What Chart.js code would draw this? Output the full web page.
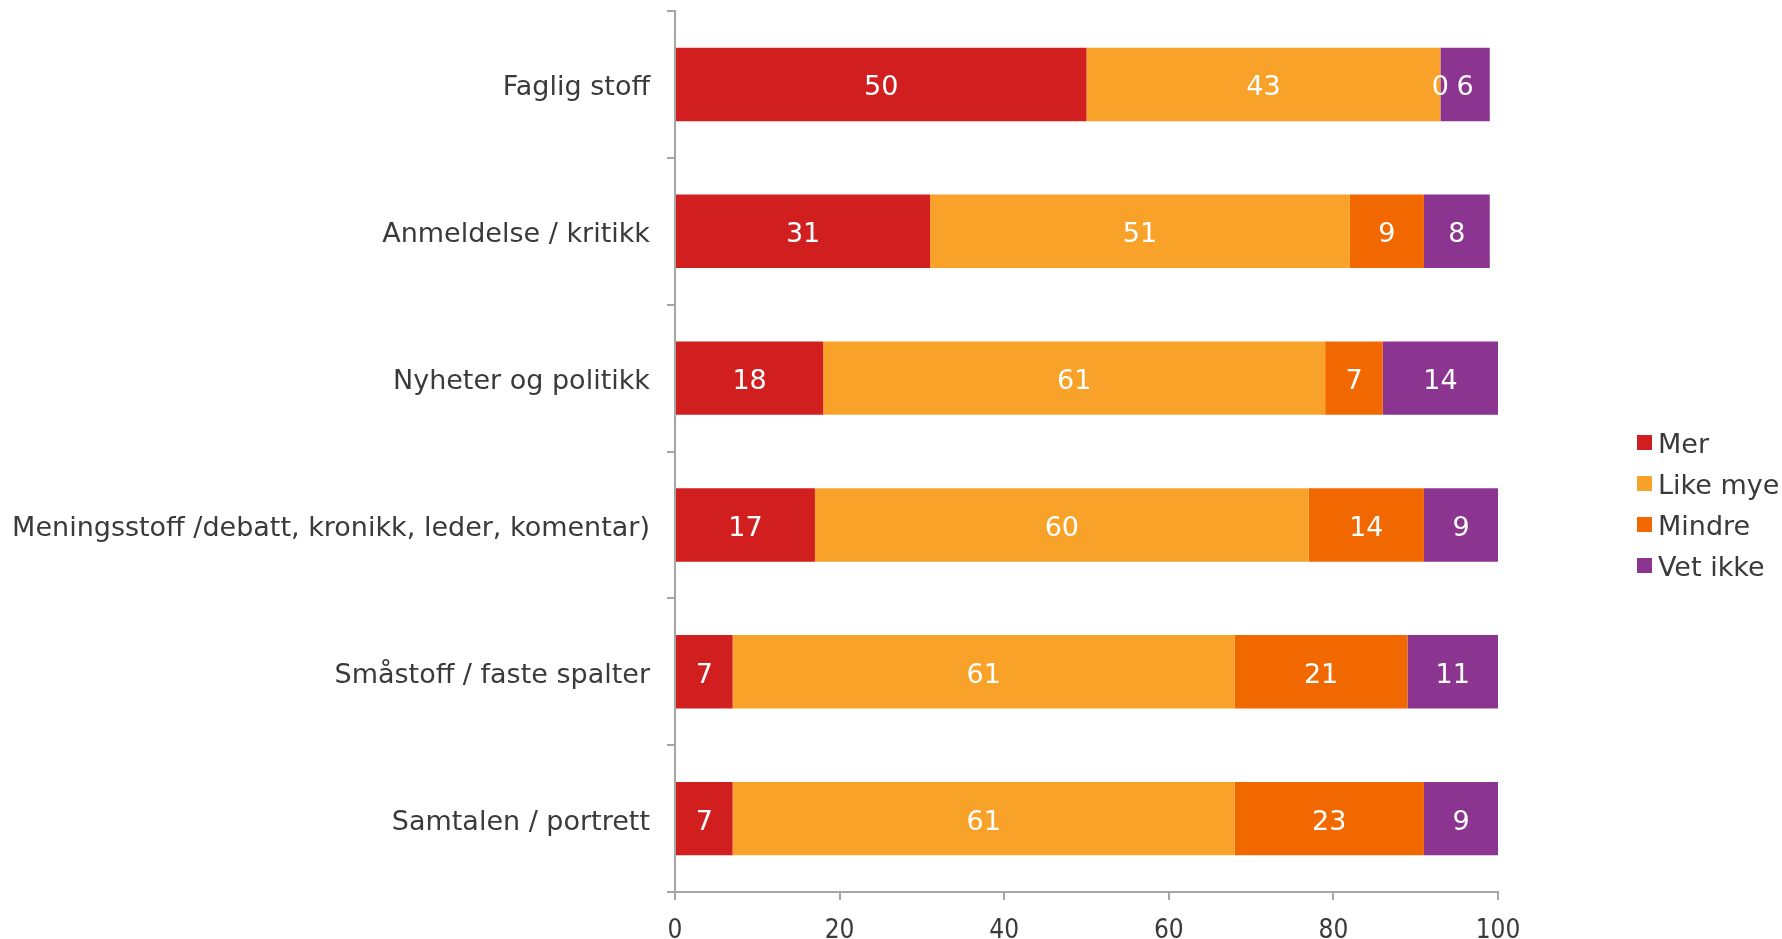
<!DOCTYPE html>
<html>
<head>
<meta charset="utf-8">
<title>Innhold</title>
<script src="https://cdn.jsdelivr.net/npm/chart.js@4/dist/chart.umd.min.js"></script>
<style>
  html, body { margin: 0; padding: 0; background: #fff; }
  #wrap { width: 1782px; height: 939px; }
</style>
</head>
<body>
<div id="wrap"><canvas id="chart" width="1782" height="939"></canvas></div>
<script>
// Categories and answers per category (percent)
const categories = [
    'Faglig stoff',
    'Anmeldelse / kritikk',
    'Nyheter og politikk',
    'Meningsstoff /debatt, kronikk, leder, komentar)',
    'Småstoff / faste spalter',
    'Samtalen / portrett'
];
const seriesNames = ['Mer', 'Like mye', 'Mindre', 'Vet ikke'];
const mer = [50, 31, 18, 17, 7, 7];
const likeMye = [43, 51, 61, 60, 61, 61];
const mindre = [0, 9, 7, 14, 21, 23];
const vetIkke = [6, 8, 14, 9, 11, 9];
const xTicks = [0, 20, 40, 60, 80, 100];

const colors = ['#D11F1F', '#F9A229', '#F26800', '#8B3590'];
const axisColor = '#A6A6A6';
const textColor = '#3A3A3A';
const labelFont = "'DejaVu Sans', Verdana, sans-serif";

// Value labels in the middle of each segment
const valueLabels = {
    id: 'valueLabels',
    afterDatasetsDraw(chart) {
        const ctx = chart.ctx;
        ctx.save();
        ctx.fillStyle = '#fff';
        ctx.font = '27px ' + labelFont;
        ctx.textAlign = 'center';
        ctx.textBaseline = 'middle';
        chart.data.datasets.forEach((ds, i) => {
            chart.getDatasetMeta(i).data.forEach((bar, j) => {
                const cx = (bar.x + bar.base) / 2;
                ctx.fillText(String(ds.data[j]), cx, bar.y + 4);
            });
        });
        ctx.restore();
    }
};

// Legend to the right of the plot
const sideLegend = {
    id: 'sideLegend',
    afterDraw(chart) {
        const ctx = chart.ctx;
        const x = chart.chartArea.right + 139;
        const y0 = 443;
        const step = 41;
        ctx.save();
        ctx.font = '27px ' + labelFont;
        ctx.textBaseline = 'middle';
        ctx.textAlign = 'left';
        chart.data.datasets.forEach((ds, i) => {
            const y = y0 + i * step;
            ctx.fillStyle = ds.backgroundColor;
            ctx.fillRect(x, y - 8, 15, 15);
            ctx.fillStyle = textColor;
            ctx.fillText(ds.label, x + 21, y + 3);
        });
        ctx.restore();
    }
};

const datasets = [mer, likeMye, mindre, vetIkke].map((values, i) => ({
    label: seriesNames[i],
    data: values,
    backgroundColor: colors[i],
    borderWidth: 0,
    barPercentage: 0.5,
    categoryPercentage: 1.0
}));

new Chart(document.getElementById('chart'), {
    type: 'bar',
    data: { labels: categories, datasets: datasets },
    options: {
        indexAxis: 'y',
        responsive: false,
        animation: false,
        layout: { padding: { top: 11, right: 284, left: 0, bottom: 0 } },
        plugins: {
            legend: { display: false },
            tooltip: { enabled: false }
        },
        scales: {
            x: {
                stacked: true,
                min: 0,
                max: 100,
                afterBuildTicks(scale) {
                    scale.ticks = xTicks.map(v => ({ value: v }));
                },
                afterFit(scale) { scale.height = 47; },
                border: { display: true, color: axisColor, width: 2 },
                grid: { drawOnChartArea: false, drawTicks: true, tickLength: 8, color: axisColor, lineWidth: 2 },
                ticks: {
                    padding: 16,
                    color: textColor,
                    font: { family: "'DejaVu Sans Condensed', 'DejaVu Sans', sans-serif", size: 26 }
                }
            },
            y: {
                stacked: true,
                afterFit(scale) {
                    scale.width = 675;
                    scale.paddingTop = 0;
                    scale.paddingBottom = 0;
                },
                border: { display: true, color: axisColor, width: 2 },
                grid: { drawOnChartArea: false, drawTicks: true, tickLength: 8, color: axisColor, lineWidth: 2, offset: true },
                ticks: {
                    padding: 17,
                    labelOffset: 4,
                    color: textColor,
                    font: { family: labelFont, size: 27 }
                }
            }
        }
    },
    plugins: [valueLabels, sideLegend]
});
</script>
</body>
</html>
